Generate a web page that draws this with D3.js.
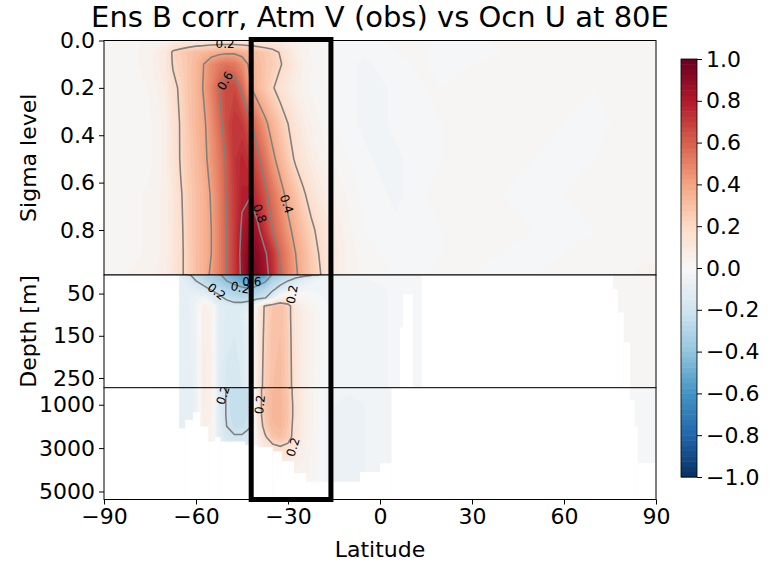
<!DOCTYPE html>
<html>
<head>
<meta charset="utf-8">
<script src="https://cdn.jsdelivr.net/npm/d3@7"></script>
<style>
  body { margin: 0; background: #fff; }
  text { font-family: "DejaVu Sans", sans-serif; fill: #000; }
</style>
</head>
<body>
<div id="chart"></div>
<script>
// ---- data ----
// latitude columns (finer where the signal is)
var lats = [-90, -85, -80, -75, -70,
  -67.5, -65, -62.5, -60, -57.5, -55, -52.5, -50, -47.5, -45, -42.5, -40, -37.5, -35, -32.5, -30, -27.5, -25, -22.5, -20, -17.5, -15,
  -10, -5, 0, 5, 10, 15, 20,
  30, 40, 50, 60, 70,
  75, 80, 85, 90];

// atmosphere, sigma levels
var sigmaLevels = [0, 0.05, 0.1, 0.2, 0.35, 0.5, 0.65, 0.8, 0.9, 0.99];
var atmCorr = [
  [0.01, 0.01, 0.02, 0.03, 0.05,  0.07, 0.08, 0.09, 0.1, 0.1, 0.11, 0.11, 0.11, 0.11, 0.1, 0.1, 0.1, 0.09, 0.09, 0.08, 0.07, 0.05, 0.03, 0.02, 0.01, 0.0, -0.01,  -0.02, -0.02, -0.01, 0.01, 0.01, 0.0, -0.01,  -0.01, 0.01, 0.01, 0.0, 0.01,  0.01, 0.01, 0.02, 0.02],
  [0.01, 0.01, 0.02, 0.04, 0.1,  0.22, 0.25, 0.28, 0.31, 0.33, 0.35, 0.37, 0.38, 0.38, 0.36, 0.33, 0.3, 0.27, 0.24, 0.19, 0.12, 0.07, 0.04, 0.02, 0.01, 0.0, -0.01,  -0.02, -0.02, -0.01, 0.0, 0.01, 0.0, -0.01,  -0.01, 0.0, 0.01, 0.01, 0.0,  0.0, 0.01, 0.01, 0.02],
  [0.01, 0.01, 0.02, 0.04, 0.1,  0.21, 0.24, 0.28, 0.33, 0.4, 0.47, 0.52, 0.55, 0.53, 0.47, 0.38, 0.32, 0.28, 0.25, 0.21, 0.15, 0.09, 0.05, 0.03, 0.01, 0.0, -0.01,  -0.02, -0.03, -0.02, -0.01, 0.0, 0.0, -0.01,  0.0, 0.0, 0.01, 0.01, 0.0,  0.0, 0.01, 0.01, 0.01],
  [0.0, 0.01, 0.01, 0.03, 0.08,  0.17, 0.22, 0.28, 0.33, 0.41, 0.5, 0.6, 0.67, 0.67, 0.58, 0.42, 0.33, 0.27, 0.21, 0.15, 0.1, 0.06, 0.04, 0.02, 0.01, 0.0, -0.01,  -0.02, -0.03, -0.03, -0.02, -0.01, 0.0, 0.0,  0.0, 0.01, 0.01, 0.0, 0.0,  0.0, 0.0, 0.01, 0.01],
  [0.0, 0.0, 0.01, 0.02, 0.06,  0.14, 0.21, 0.27, 0.33, 0.38, 0.46, 0.56, 0.66, 0.72, 0.7, 0.63, 0.53, 0.43, 0.34, 0.27, 0.2, 0.13, 0.08, 0.05, 0.03, 0.01, 0.0,  -0.02, -0.03, -0.03, -0.02, -0.02, -0.01, 0.0,  0.01, 0.01, 0.0, 0.0, -0.01,  0.0, 0.01, 0.01, 0.02],
  [0.0, 0.0, 0.01, 0.02, 0.06,  0.13, 0.21, 0.26, 0.31, 0.37, 0.44, 0.52, 0.62, 0.72, 0.76, 0.72, 0.63, 0.54, 0.43, 0.34, 0.26, 0.18, 0.12, 0.08, 0.05, 0.03, 0.02,  0.0, -0.02, -0.03, -0.03, -0.02, -0.01, 0.0,  0.01, 0.01, 0.0, -0.01, 0.0,  0.01, 0.01, 0.02, 0.02],
  [0.01, 0.01, 0.02, 0.03, 0.06,  0.11, 0.19, 0.25, 0.3, 0.35, 0.41, 0.5, 0.61, 0.7, 0.78, 0.79, 0.72, 0.63, 0.54, 0.45, 0.36, 0.29, 0.22, 0.15, 0.1, 0.07, 0.05,  0.02, -0.01, -0.02, -0.03, -0.02, 0.0, 0.01,  0.01, 0.0, -0.01, 0.0, 0.01,  0.01, 0.02, 0.02, 0.02],
  [0.01, 0.01, 0.02, 0.03, 0.06,  0.11, 0.18, 0.25, 0.3, 0.35, 0.4, 0.5, 0.6, 0.7, 0.82, 0.88, 0.83, 0.72, 0.6, 0.52, 0.43, 0.36, 0.29, 0.23, 0.17, 0.12, 0.08,  0.03, 0.0, -0.01, -0.02, -0.02, -0.01, 0.0,  0.0, 0.01, 0.0, -0.01, 0.0,  0.01, 0.01, 0.02, 0.02],
  [0.02, 0.02, 0.02, 0.03, 0.06,  0.11, 0.18, 0.24, 0.3, 0.35, 0.4, 0.5, 0.6, 0.7, 0.84, 0.94, 0.91, 0.82, 0.72, 0.58, 0.49, 0.4, 0.33, 0.26, 0.2, 0.14, 0.09,  0.04, 0.01, 0.0, -0.01, -0.02, -0.01, 0.0,  0.01, 0.0, -0.01, 0.0, 0.01,  0.02, 0.02, 0.02, 0.02],
  [0.02, 0.02, 0.03, 0.04, 0.07,  0.12, 0.18, 0.24, 0.3, 0.35, 0.42, 0.5, 0.6, 0.7, 0.83, 0.97, 0.93, 0.85, 0.74, 0.6, 0.5, 0.42, 0.34, 0.27, 0.22, 0.15, 0.09,  0.04, 0.02, 0.01, 0.0, -0.01, 0.0, 0.01,  0.0, -0.01, 0.0, 0.01, 0.01,  0.02, 0.02, 0.03, 0.03]
];

// upper ocean, depth [m]
var depthUpper = [6, 20, 40, 60, 80, 100, 150, 200, 273];
var ocnUpperCorr = [
  [0, 0, 0, 0, -0.05,  -0.08, -0.1, -0.18, -0.25, -0.3, -0.33, -0.38, -0.45, -0.5, -0.55, -0.6, -0.63, -0.55, -0.38, -0.33, -0.28, -0.25, -0.23, -0.21, -0.12, -0.05, -0.03,  -0.02, -0.02, -0.02, -0.01, 0.0, 0.0, 0.0,  0, 0, 0, 0, 0.01,  0.01, 0.02, 0.02, 0.02],
  [0, 0, 0, 0, -0.05,  -0.07, -0.08, -0.13, -0.2, -0.25, -0.3, -0.34, -0.4, -0.45, -0.5, -0.56, -0.5, -0.42, -0.3, -0.25, -0.2, -0.15, -0.1, -0.06, -0.04, -0.03, -0.03,  -0.03, -0.03, -0.02, -0.02, -0.01, 0.0, 0.0,  0, 0, 0, 0, 0.01,  0.01, 0.02, 0.02, 0.02],
  [0, 0, 0, 0, -0.05,  -0.06, -0.08, -0.1, -0.12, -0.16, -0.21, -0.25, -0.3, -0.33, -0.36, -0.38, -0.33, -0.28, -0.22, -0.15, -0.1, -0.06, -0.04, -0.03, -0.03, -0.03, -0.03,  -0.03, -0.03, -0.03, -0.02, -0.01, 0.0, 0.0,  0, 0, 0, 0, 0.01,  0.01, 0.02, 0.02, 0.02],
  [0, 0, 0, 0, -0.05,  -0.06, -0.08, -0.08, -0.06, -0.04, -0.1, -0.17, -0.22, -0.26, -0.27, -0.26, -0.24, -0.21, -0.1, 0.05, 0.08, 0.05, 0.02, 0.0, -0.02, -0.03, -0.03,  -0.03, -0.03, -0.03, -0.02, -0.01, 0.0, 0.0,  0, 0, 0, 0, 0.01,  0.01, 0.02, 0.02, 0.02],
  [0, 0, 0, 0, -0.05,  -0.06, -0.08, -0.08, -0.04, 0.06, 0.03, -0.1, -0.14, -0.15, -0.14, -0.1, 0.05, 0.22, 0.28, 0.3, 0.24, 0.12, 0.06, 0.03, 0.0, -0.02, -0.03,  -0.03, -0.03, -0.03, -0.02, -0.01, 0.0, 0.0,  0, 0, 0, 0, 0.01,  0.01, 0.02, 0.02, 0.02],
  [0, 0, 0, 0, -0.05,  -0.06, -0.08, -0.09, -0.05, 0.07, 0.04, -0.1, -0.13, -0.14, -0.12, -0.05, 0.08, 0.22, 0.28, 0.3, 0.24, 0.12, 0.07, 0.04, 0.01, -0.02, -0.03,  -0.03, -0.03, -0.03, -0.02, -0.02, -0.01, 0.0,  0, 0, 0, 0, 0.01,  0.01, 0.02, 0.02, 0.01],
  [0, 0, 0, 0, -0.05,  -0.06, -0.08, -0.09, -0.05, 0.07, 0.04, -0.11, -0.14, -0.15, -0.13, -0.06, 0.09, 0.23, 0.29, 0.3, 0.25, 0.12, 0.07, 0.04, 0.01, -0.02, -0.03,  -0.03, -0.04, -0.03, -0.02, -0.02, -0.01, 0.0,  0, 0, 0, 0, 0.01,  0.01, 0.02, 0.01, 0.01],
  [0, 0, 0, 0, -0.05,  -0.06, -0.08, -0.09, -0.05, 0.08, 0.05, -0.11, -0.15, -0.16, -0.14, -0.07, 0.09, 0.24, 0.29, 0.31, 0.25, 0.13, 0.07, 0.04, 0.01, -0.02, -0.03,  -0.04, -0.04, -0.03, -0.02, -0.02, -0.01, 0.0,  0, 0, 0, 0, 0.01,  0.01, 0.01, 0.01, 0.01],
  [0, 0, 0, 0, -0.05,  -0.06, -0.08, -0.1, -0.06, 0.08, 0.05, -0.12, -0.16, -0.17, -0.15, -0.08, 0.1, 0.25, 0.3, 0.31, 0.26, 0.13, 0.07, 0.04, 0.0, -0.02, -0.04,  -0.04, -0.04, -0.03, -0.02, -0.02, -0.01, 0.0,  0, 0, 0, 0, 0.01,  0.01, 0.01, 0.01, 0.01]
];

// deep ocean, depth [m]
var depthDeep = [215, 500, 1000, 1500, 2000, 2500, 3000, 3500, 4000, 4500, 5000, 5370];
var ocnDeepCorr = [
  [0, 0, 0, 0, -0.05,  -0.06, -0.08, -0.1, -0.06, 0.08, 0.05, -0.12, -0.2, -0.24, -0.24, -0.21, 0.1, 0.28, 0.32, 0.33, 0.27, 0.14, 0.08, 0.04, 0.0, -0.03, -0.05,  -0.05, -0.04, -0.03, -0.02, 0, 0, 0,  0, 0, 0, 0, 0,  0, 0.0, -0.01, -0.02],
  [0, 0, 0, 0, -0.05,  -0.06, -0.08, -0.1, -0.06, 0.08, 0.05, -0.12, -0.21, -0.25, -0.25, -0.22, 0.1, 0.28, 0.33, 0.33, 0.27, 0.14, 0.08, 0.04, 0.0, -0.03, -0.05,  -0.05, -0.05, -0.04, -0.02, 0, 0, 0,  0, 0, 0, 0, 0,  0, 0.0, -0.01, -0.02],
  [0, 0, 0, 0, -0.05,  -0.06, -0.08, -0.1, -0.06, 0.08, 0.05, -0.12, -0.21, -0.25, -0.25, -0.22, 0.1, 0.29, 0.33, 0.34, 0.28, 0.15, 0.08, 0.04, 0.0, -0.03, -0.05,  -0.06, -0.05, -0.04, -0.02, 0, 0, 0,  0, 0, 0, 0, 0,  0, 0.0, -0.01, -0.02],
  [0, 0, 0, 0, -0.05,  -0.06, -0.08, -0.1, -0.06, 0.07, 0.05, -0.12, -0.21, -0.24, -0.24, -0.22, 0.1, 0.28, 0.33, 0.34, 0.28, 0.15, 0.08, 0.04, 0.0, -0.03, -0.05,  -0.06, -0.05, -0.04, -0.02, 0, 0, 0,  0, 0, 0, 0, 0,  0, 0.0, -0.01, -0.02],
  [0, 0, 0, 0, -0.05,  -0.06, -0.08, -0.09, -0.05, 0.06, 0.04, -0.11, -0.2, -0.23, -0.23, -0.21, 0.08, 0.25, 0.32, 0.33, 0.27, 0.14, 0.08, 0.04, 0.0, -0.03, -0.05,  -0.06, -0.05, -0.04, -0.02, 0, 0, 0,  0, 0, 0, 0, 0,  0, 0.0, -0.01, -0.02],
  [0, 0, 0, 0, -0.05,  -0.06, -0.07, -0.08, -0.05, 0.05, 0.03, -0.1, -0.17, -0.19, -0.19, -0.15, 0.05, 0.18, 0.28, 0.3, 0.26, 0.13, 0.07, 0.03, 0.0, -0.03, -0.05,  -0.06, -0.05, -0.04, -0.02, 0, 0, 0,  0, 0, 0, 0, 0,  0, 0.0, -0.01, -0.02],
  [0, 0, 0, 0, -0.05,  -0.05, -0.06, -0.07, -0.05, 0.04, 0.02, -0.08, -0.12, -0.14, -0.13, -0.1, 0.03, 0.1, 0.15, 0.18, 0.15, 0.1, 0.06, 0.03, 0.0, -0.03, -0.05,  -0.06, -0.05, -0.04, -0.02, 0, 0, 0,  0, 0, 0, 0, 0,  0, 0.0, -0.01, -0.02],
  [0, 0, 0, 0, -0.05,  -0.05, -0.05, -0.06, -0.04, 0.03, 0.02, -0.06, -0.09, -0.1, -0.09, -0.06, 0.02, 0.06, 0.09, 0.1, 0.09, 0.07, 0.05, 0.02, 0.0, -0.03, -0.05,  -0.06, -0.05, -0.04, -0.02, 0, 0, 0,  0, 0, 0, 0, 0,  0, 0.0, -0.01, -0.02],
  [0, 0, 0, 0, -0.04,  -0.04, -0.05, -0.05, -0.03, 0.02, 0.01, -0.05, -0.07, -0.08, -0.07, -0.05, 0.01, 0.04, 0.06, 0.07, 0.07, 0.05, 0.04, 0.02, 0.0, -0.03, -0.05,  -0.06, -0.05, -0.04, -0.02, 0, 0, 0,  0, 0, 0, 0, 0,  0, 0.0, -0.01, -0.02],
  [0, 0, 0, 0, -0.04,  -0.04, -0.04, -0.04, -0.03, 0.01, 0.01, -0.04, -0.05, -0.06, -0.05, -0.04, 0.01, 0.03, 0.05, 0.05, 0.05, 0.04, 0.03, 0.02, 0.0, -0.03, -0.05,  -0.06, -0.05, -0.04, -0.02, 0, 0, 0,  0, 0, 0, 0, 0,  0, 0.0, -0.01, -0.02],
  [0, 0, 0, 0, -0.04,  -0.04, -0.04, -0.04, -0.03, 0.01, 0.0, -0.03, -0.04, -0.05, -0.04, -0.03, 0.0, 0.02, 0.04, 0.04, 0.04, 0.03, 0.02, 0.01, 0.0, -0.03, -0.05,  -0.05, -0.05, -0.04, -0.02, 0, 0, 0,  0, 0, 0, 0, 0,  0, 0.0, -0.01, -0.02],
  [0, 0, 0, 0, -0.04,  -0.04, -0.04, -0.04, -0.03, 0.01, 0.0, -0.03, -0.04, -0.04, -0.04, -0.03, 0.0, 0.02, 0.03, 0.04, 0.04, 0.03, 0.02, 0.01, 0.0, -0.03, -0.05,  -0.05, -0.05, -0.04, -0.02, 0, 0, 0,  0, 0, 0, 0, 0,  0, 0.0, -0.01, -0.02]
];

// where there is water: [lat from, lat to, bottom depth]
var upperWater = [[-65.5, 6.5, 273], [6.5, 7.5, 130], [7.5, 10.8, 52], [10.8, 13.6, 273],
  [76, 77.5, 40], [77.5, 79.5, 95], [79.5, 81.5, 165], [81.5, 90, 273]];
var deepWater = [[-65.5, -63.5, 2100], [-63.5, -61, 1700], [-61, -58.7, 1350], [-58.7, -56, 2000],
  [-56, -53.8, 2700], [-53.8, -52, 2500], [-52, -44, 2700], [-44, -40, 2850], [-40, -35, 2950],
  [-35, -32, 3150], [-32, -28, 3600], [-28, -24, 4150], [-24, -6.5, 4550], [-6.5, 0, 4100],
  [0, 3.8, 3700], [81.5, 83, 800], [83, 84, 2000], [84, 90, 3700]];

var xTicks = [-90, -60, -30, 0, 30, 60, 90];
var sigmaTicks = [0, 0.2, 0.4, 0.6, 0.8];
var upperTicks = [50, 150, 250];
var deepTicks = [1000, 3000, 5000];
var colorbarTicks = [-1, -0.8, -0.6, -0.4, -0.2, 0, 0.2, 0.4, 0.6, 0.8, 1];
var lineLevels = [-0.8, -0.6, -0.4, -0.2, 0.2, 0.4, 0.6, 0.8];
var boxLats = [-42, -16];

// contour labels as they appear: panel, lat, level, text, angle
var contourLabels = [
  {panel: 0, lat: -50.5, level: 0.012, text: "0.2", angle: 0},
  {panel: 0, lat: -50.5, level: 0.17, text: "0.6", angle: -60},
  {panel: 0, lat: -39.2, level: 0.73, text: "0.8", angle: 70},
  {panel: 0, lat: -30.4, level: 0.69, text: "0.4", angle: 72},
  {panel: 1, lat: -53.3, level: 45, text: "0.2", angle: 38},
  {panel: 1, lat: -45.6, level: 36, text: "0.2", angle: 12},
  {panel: 1, lat: -41.8, level: 22, text: "0.6", angle: 0},
  {panel: 1, lat: -28.7, level: 52, text: "0.2", angle: -80},
  {panel: 2, lat: -51.2, level: 560, text: "0.2", angle: -72},
  {panel: 2, lat: -39.2, level: 990, text: "0.2", angle: -84},
  {panel: 2, lat: -28.4, level: 2950, text: "0.2", angle: -72}
];

// ---- layout ----
var svgWidth = 777, svgHeight = 565;
var left = 104, right = 656;

var svg = d3.select("#chart").append("svg")
  .attr("width", svgWidth)
  .attr("height", svgHeight);

var x = d3.scaleLinear().domain([-90, 90]).range([left, right]);

var panels = [
  {levels: sigmaLevels, values: atmCorr, domain: [0, 0.99], top: 40.5, bottom: 275, ticks: sigmaTicks, fmt: d3.format(".1f")},
  {levels: depthUpper, values: ocnUpperCorr, domain: [6, 273], top: 275, bottom: 387.7, ticks: upperTicks, fmt: d3.format("d"), water: upperWater},
  {levels: depthDeep, values: ocnDeepCorr, domain: [215, 5370], top: 387.7, bottom: 499.5, ticks: deepTicks, fmt: d3.format("d"), water: deepWater}
];

// RdBu_r
var rdbu = ["#053061", "#2166ac", "#4393c3", "#92c5de", "#d1e5f0", "#f7f7f7", "#fddbc7", "#f4a582", "#d6604d", "#b2182b", "#67001f"];
var color = d3.scaleLinear()
  .domain(d3.range(11).map(function(i) { return -1 + i * 0.2; }))
  .range(rdbu)
  .interpolate(d3.interpolateRgb)
  .clamp(true);

var step = 0.025;
var fillLevels = d3.range(80).map(function(i) { return +(-1 + i * step).toFixed(4); });

var n = lats.length;
var latIdx = d3.scaleLinear().domain(d3.range(n)).range(lats).clamp(true);

var defs = svg.append("defs");

panels.forEach(function(p, pi) {
  var m = p.levels.length;
  p.y = d3.scaleLinear().domain(p.domain).range([p.top, p.bottom]);
  var levIdx = d3.scaleLinear().domain(d3.range(m)).range(p.levels).clamp(true);
  var px = function(gx) { return x(latIdx(gx - 0.5)); };
  var py = function(gy) { return p.y(levIdx(gy - 0.5)); };
  var flat = [];
  p.values.forEach(function(row) { row.forEach(function(v) { flat.push(v); }); });

  defs.append("clipPath").attr("id", "clip" + pi)
    .append("rect")
    .attr("x", left).attr("y", p.top)
    .attr("width", right - left).attr("height", p.bottom - p.top);

  var g = svg.append("g").attr("clip-path", "url(#clip" + pi + ")");

  // filled contours
  var filled = d3.contours().size([n, m]).thresholds(fillLevels)(flat);
  g.selectAll("path.band")
    .data(filled)
    .enter()
    .append("path")
    .attr("class", "band")
    .attr("fill", function(c) { return color(c.value + step / 2); })
    .attr("fill-rule", "evenodd")
    .attr("d", function(c) {
      var d = "";
      c.coordinates.forEach(function(poly) {
        poly.forEach(function(ring) {
          ring.forEach(function(pt, k) {
            d += (k ? "L" : "M") + px(pt[0]).toFixed(2) + "," + py(pt[1]).toFixed(2);
          });
          d += "Z";
        });
      });
      return d;
    });

  // contour lines (skip pieces running along the panel edge)
  var lines = d3.contours().size([n, m]).thresholds(lineLevels)(flat);
  g.selectAll("path.cline")
    .data(lines)
    .enter()
    .append("path")
    .attr("class", "cline")
    .attr("fill", "none")
    .attr("stroke", "#808080")
    .attr("stroke-width", 1.6)
    .attr("d", function(c) {
      var d = "";
      c.coordinates.forEach(function(poly) {
        poly.forEach(function(ring) {
          var pen = false;
          for (var k = 1; k < ring.length; k++) {
            var a = ring[k - 1], b = ring[k];
            var edge = (a[0] === b[0] && (a[0] === 0 || a[0] === n)) ||
                       (a[1] === b[1] && (a[1] === 0 || a[1] === m));
            if (edge) { pen = false; continue; }
            if (!pen) d += "M" + px(a[0]).toFixed(2) + "," + py(a[1]).toFixed(2);
            d += "L" + px(b[0]).toFixed(2) + "," + py(b[1]).toFixed(2);
            pen = true;
          }
        });
      });
      return d;
    });

  // land / sea floor masked white
  if (p.water) {
    var segs = p.water.slice().sort(function(a, b) { return a[0] - b[0]; });
    var cursor = -90;
    segs.forEach(function(s) {
      if (s[0] > cursor) {
        g.append("rect").attr("fill", "#fff")
          .attr("x", x(cursor)).attr("width", x(s[0]) - x(cursor))
          .attr("y", p.top).attr("height", p.bottom - p.top);
      }
      if (s[2] < p.domain[1]) {
        g.append("rect").attr("fill", "#fff")
          .attr("x", x(s[0])).attr("width", x(s[1]) - x(s[0]))
          .attr("y", p.y(s[2])).attr("height", p.bottom - p.y(s[2]));
      }
      cursor = Math.max(cursor, s[1]);
    });
    if (cursor < 90) {
      g.append("rect").attr("fill", "#fff")
        .attr("x", x(cursor)).attr("width", x(90) - x(cursor))
        .attr("y", p.top).attr("height", p.bottom - p.top);
    }
  }

  // contour labels
  g.selectAll("text.clabel")
    .data(contourLabels.filter(function(l) { return l.panel === pi; }))
    .enter()
    .append("text")
    .attr("class", "clabel")
    .attr("transform", function(l) { return "translate(" + x(l.lat) + "," + p.y(l.level) + ") rotate(" + l.angle + ")"; })
    .attr("text-anchor", "middle")
    .attr("dy", "0.35em")
    .style("font-size", "12px")
    .text(function(l) { return l.text; });

  // frame
  svg.append("rect")
    .attr("x", left).attr("y", p.top)
    .attr("width", right - left).attr("height", p.bottom - p.top)
    .attr("fill", "none").attr("stroke", "#000").attr("stroke-width", 1);

  // left axis
  var axis = svg.append("g")
    .attr("transform", "translate(" + left + ",0)")
    .call(d3.axisLeft(p.y).tickValues(p.ticks).tickFormat(p.fmt).tickSize(5).tickPadding(4));
  axis.select(".domain").remove();
  axis.selectAll("text").style("font-size", "22px").attr("font-family", null);
});

// bottom axis
var bottomPanel = panels[2];
var xAxis = svg.append("g")
  .attr("transform", "translate(0," + bottomPanel.bottom + ")")
  .call(d3.axisBottom(x).tickValues(xTicks).tickFormat(d3.format("d")).tickSize(5).tickPadding(4));
xAxis.select(".domain").remove();
xAxis.selectAll("text").style("font-size", "22px").attr("font-family", null);

// the box around the region
svg.append("rect")
  .attr("x", x(boxLats[0])).attr("y", panels[0].top - 1)
  .attr("width", x(boxLats[1]) - x(boxLats[0]))
  .attr("height", bottomPanel.bottom - panels[0].top + 1)
  .attr("fill", "none").attr("stroke", "#000").attr("stroke-width", 5);

// titles and axis labels
svg.append("text")
  .attr("x", (left + right) / 2).attr("y", 27)
  .attr("text-anchor", "middle")
  .style("font-size", "29px")
  .text("Ens B corr, Atm V (obs) vs Ocn U at 80E");

svg.append("text")
  .attr("x", (left + right) / 2).attr("y", 557)
  .attr("text-anchor", "middle")
  .style("font-size", "22px")
  .text("Latitude");

svg.append("text")
  .attr("transform", "translate(36," + (panels[0].top + panels[0].bottom) / 2 + ") rotate(-90)")
  .attr("text-anchor", "middle")
  .style("font-size", "22px")
  .text("Sigma level");

svg.append("text")
  .attr("transform", "translate(36," + (panels[1].top + panels[1].bottom) / 2 + ") rotate(-90)")
  .attr("text-anchor", "middle")
  .style("font-size", "22px")
  .text("Depth [m]");

// colorbar
var cb = {left: 681, width: 16, top: 59, bottom: 477};
var cy = d3.scaleLinear().domain([-1, 1]).range([cb.bottom, cb.top]);
svg.append("g").selectAll("rect")
  .data(fillLevels)
  .enter()
  .append("rect")
  .attr("x", cb.left).attr("width", cb.width)
  .attr("y", function(t) { return cy(t + step); })
  .attr("height", function(t) { return cy(t) - cy(t + step) + 0.5; })
  .attr("fill", function(t) { return color(t + step / 2); });
svg.append("rect")
  .attr("x", cb.left).attr("y", cb.top)
  .attr("width", cb.width).attr("height", cb.bottom - cb.top)
  .attr("fill", "none").attr("stroke", "#000").attr("stroke-width", 0.8);
var cbAxis = svg.append("g")
  .attr("transform", "translate(" + (cb.left + cb.width) + ",0)")
  .call(d3.axisRight(cy).tickValues(colorbarTicks).tickFormat(d3.format(".1f")).tickSize(5).tickPadding(4));
cbAxis.select(".domain").remove();
cbAxis.selectAll("text").style("font-size", "22px").attr("font-family", null);
</script>
</body>
</html>
